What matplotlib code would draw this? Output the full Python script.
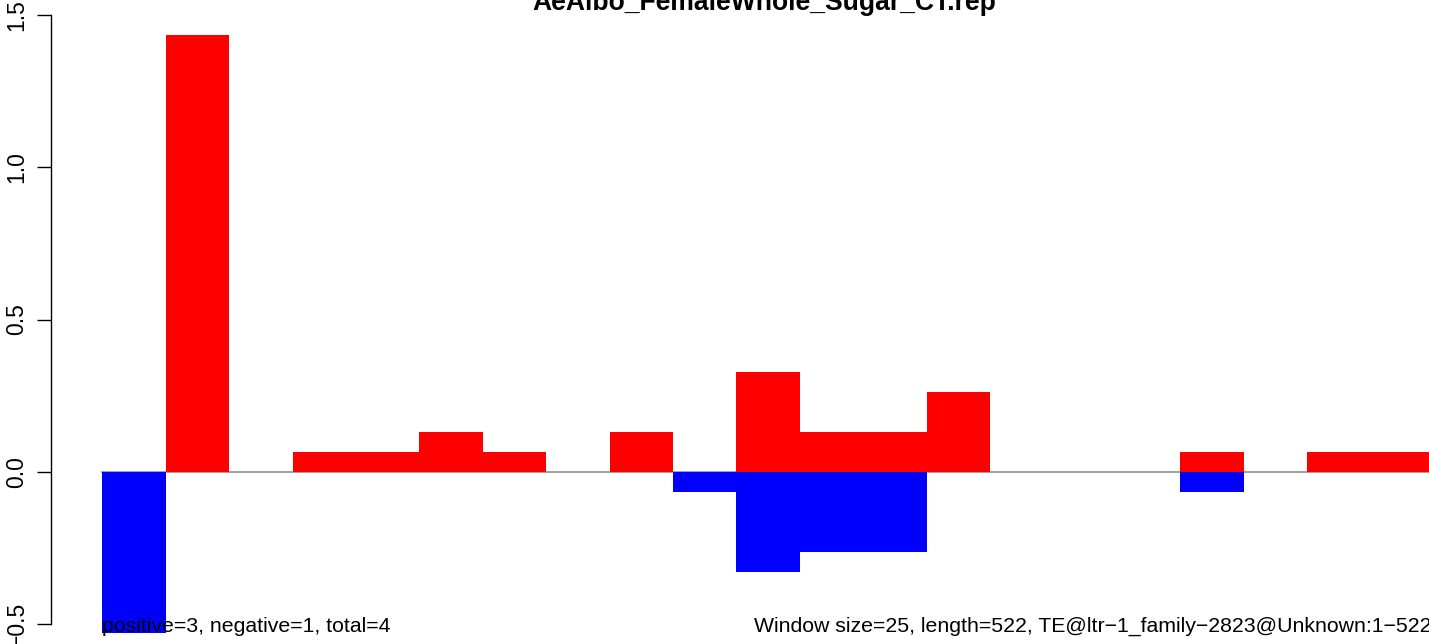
import numpy as np
import matplotlib
matplotlib.use('Agg')
import matplotlib.pyplot as plt

# 字体
matplotlib.rcParams['font.family'] = ['Liberation Sans', 'DejaVu Sans']

# 数据：每个窗口的正/负值
window_size = 25
seq_length = 522
pos_values = [0, 1.435, 0, 0.065, 0.065, 0.13, 0.065, 0, 0.13, 0, 0.327,
              0.13, 0.13, 0.262, 0, 0, 0, 0.065, 0, 0.065, 0.065]
neg_values = [-0.53, 0, 0, 0, 0, 0, 0, 0, 0, -0.065, -0.329,
              -0.264, -0.264, 0, 0, 0, 0, -0.065, 0, 0, 0]
yticks = [-0.5, 0.0, 0.5, 1.0, 1.5]
title = 'AeAlbo_FemaleWhole_Sugar_CT.rep'
left_note = 'positive=3, negative=1, total=4'
right_note = 'Window size=25, length=522, TE@ltr\u22121_family\u22122823@Unknown:1\u2212522'

W, H = 1429, 644
fig = plt.figure(figsize=(W / 100, H / 100), dpi=100)

# 坐标轴位置（按像素换算）
ax_left = 50.7
ax = fig.add_axes([ax_left / W, 0, (W - ax_left) / W, 1])
px_per_x = 2.536
px_per_y = 304.5
x0 = -0.04 * seq_length + 0.5
ax.set_xlim(x0, x0 + (W - ax_left) / px_per_x)
ax.set_ylim(-0.5 - (H - 624) / px_per_y, 1.5 + 15 / px_per_y)

starts = np.arange(len(pos_values)) * window_size

# 零线
ax.plot([0, seq_length + window_size], [0, 0], color='#999999', lw=1.3, zorder=1)

# 柱子
ax.bar(starts, pos_values, width=window_size, align='edge', color='#ff0000', linewidth=0, zorder=2)
ax.bar(starts, neg_values, width=window_size, align='edge', color='#0000ff', linewidth=0, zorder=2)

# 只保留左边的y轴
for s in ['top', 'right', 'bottom']:
    ax.spines[s].set_visible(False)
ax.spines['left'].set_bounds(-0.5, 1.5)
ax.spines['left'].set_linewidth(1.0)
ax.set_xticks([])
ax.set_yticks(yticks)
ax.set_yticklabels(['%.1f' % v if v >= 0 else '\u2212%.1f' % abs(v) for v in yticks],
                   rotation=90, va='center', fontsize=16.5)
ax.tick_params(axis='y', length=10, width=1.0, pad=6)

# 标题和底部文字
ax.text(seq_length / 2, 1 - 10 / H, title, transform=ax.get_xaxis_transform(),
        ha='center', va='baseline', fontsize=19.1, fontweight='bold', clip_on=False)
ax.text(0, 1 - 631.7 / H, left_note, transform=ax.get_xaxis_transform(),
        ha='left', va='baseline', fontsize=15.3, zorder=3)
fig.text(754 / W, 1 - 631.7 / H, right_note, ha='left', va='baseline', fontsize=15.35)

fig.savefig('out.png', dpi=100)
